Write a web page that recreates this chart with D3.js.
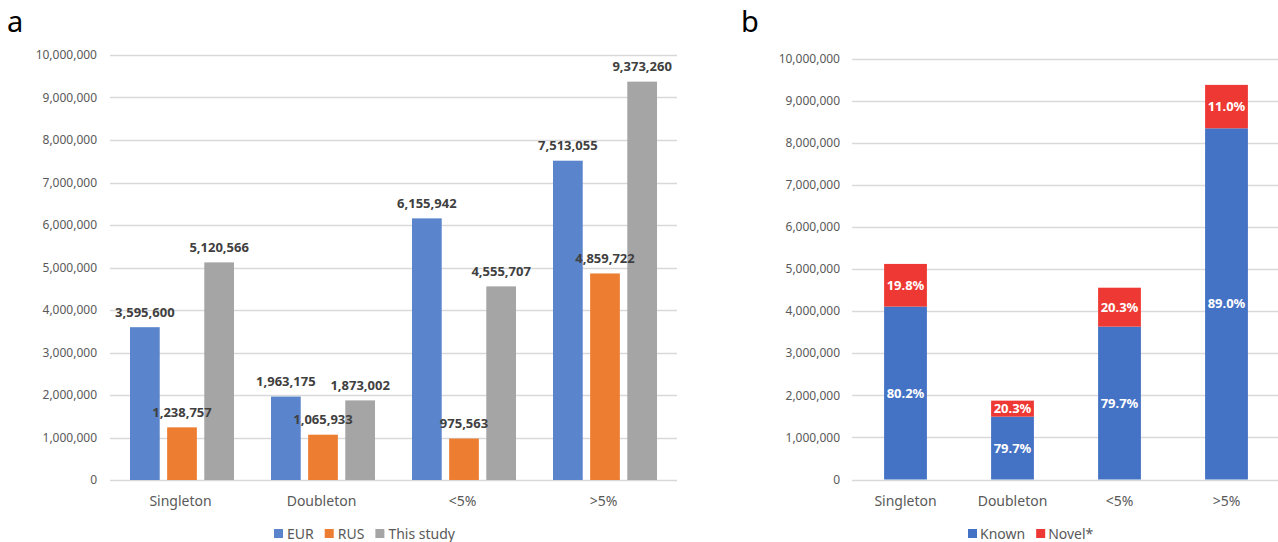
<!DOCTYPE html>
<html><head><meta charset="utf-8">
<script src="https://cdn.jsdelivr.net/npm/d3@7"></script>
<style>body{margin:0;background:#fff}svg{display:block;font-family:"Noto Sans",sans-serif}</style>
</head><body><svg id="c" width="1278" height="542"></svg>
<script>
const categories = ["Singleton","Doubleton","<5%",">5%"];
const seriesNames = ["EUR","RUS","This study"];
const eurValues = [3595600,1963175,6155942,7513055];
const rusValues = [1238757,1065933,975563,4859722];
const studyValues = [5120566,1873002,4555707,9373260];
const knownPct = [80.2,79.7,79.7,89.0];
const novelPct = [19.8,20.3,20.3,11.0];
const yTicks = [0,1000000,2000000,3000000,4000000,5000000,6000000,7000000,8000000,9000000,10000000];
const stackNames = ["Known","Novel*"];

const svg = d3.select("#c");
const fmt = d3.format(",");
const colA = ["#5A84CC","#ED7D31","#A5A5A5"];
const colB = ["#4472C4","#EE3833"];

svg.append("text").attr("x",7).attr("y",32).attr("font-size",29).attr("fill","#000").text("a");
svg.append("text").attr("x",741).attr("y",32).attr("font-size",29).attr("fill","#000").text("b");

function drawAxis(g, y, x0, x1, labelX){
  g.selectAll("line.grid").data(yTicks).join("line").attr("class","grid")
    .attr("x1",x0).attr("x2",x1).attr("y1",d=>Math.round(y(d))+0.5).attr("y2",d=>Math.round(y(d))+0.5)
    .attr("stroke","#d9d9d9").attr("stroke-width",1.3);
  g.selectAll("text.tick").data(yTicks).join("text").attr("class","tick")
    .attr("x",labelX).attr("y",d=>y(d)).attr("dy","0.35em").attr("text-anchor","end")
    .attr("font-size",12).attr("fill","#595959").text(d=>fmt(d));
}

// ---- Panel a ----
const ga = svg.append("g");
const ya = d3.scaleLinear().domain([0,10000000]).range([480,55]);
const xa = d3.scaleBand().domain(categories).range([110,674]);
const xsa = d3.scaleBand().domain(seriesNames).range([20,124]).paddingInner(0.2);
drawAxis(ga, ya, 110, 677, 97);
const seriesA = [eurValues,rusValues,studyValues];
const allA = seriesNames.flatMap((s,si)=>categories.map((c,i)=>({s,si,c,v:seriesA[si][i]})));
ga.selectAll("rect.bar").data(allA).join("rect").attr("class","bar")
  .attr("x",d=>xa(d.c)+xsa(d.s)).attr("width",xsa.bandwidth())
  .attr("y",d=>ya(d.v)).attr("height",d=>ya(0)-ya(d.v)).attr("fill",d=>colA[d.si]);
ga.selectAll("text.lbl").data(allA).join("text").attr("class","lbl")
  .attr("x",d=>xa(d.c)+xsa(d.s)+xsa.bandwidth()/2).attr("y",d=>ya(d.v)-15).attr("dy","0.35em")
  .attr("text-anchor","middle").attr("font-size",13).attr("font-weight","bold").attr("fill","#404040")
  .text(d=>fmt(d.v));
ga.selectAll("text.cat").data(categories).join("text").attr("class","cat")
  .attr("x",d=>xa(d)+xa.bandwidth()/2).attr("y",501).attr("dy","0.35em").attr("text-anchor","middle")
  .attr("font-size",14).attr("fill","#595959").text(d=>d);
const legA = ga.append("g");
let lx = 274;
seriesNames.forEach((s,i)=>{
  legA.append("rect").attr("x",lx).attr("y",529).attr("width",9).attr("height",9).attr("fill",colA[i]);
  const t = legA.append("text").attr("x",lx+13).attr("y",534).attr("dy","0.35em").attr("font-size",14).attr("fill","#595959").text(s);
  lx += 13 + t.node().getComputedTextLength() + 11;
});

// ---- Panel b ----
const gb = svg.append("g");
const yb = d3.scaleLinear().domain([0,10000000]).range([479.5,58.5]);
const xb = d3.scaleBand().domain(categories).range([852,1280]).paddingInner(0.6).paddingOuter(0.3);
drawAxis(gb, yb, 852, 1278, 840);
const stacked = categories.map((c,i)=>{
  const known = studyValues[i]*knownPct[i]/100;
  return {c, segs:[
    {k:0, y0:0, y1:known, p:knownPct[i]},
    {k:1, y0:known, y1:studyValues[i], p:novelPct[i]}
  ]};
});
const segs = stacked.flatMap(d=>d.segs.map(s=>({...s,c:d.c})));
gb.selectAll("rect.seg").data(segs).join("rect").attr("class","seg")
  .attr("x",d=>xb(d.c)).attr("width",xb.bandwidth())
  .attr("y",d=>yb(d.y1)).attr("height",d=>yb(d.y0)-yb(d.y1)).attr("fill",d=>colB[d.k]);
gb.selectAll("text.pl").data(segs).join("text").attr("class","pl")
  .attr("x",d=>xb(d.c)+xb.bandwidth()/2).attr("y",d=>(yb(d.y0)+yb(d.y1))/2).attr("dy","0.35em")
  .attr("text-anchor","middle").attr("font-size",13).attr("font-weight","bold").attr("fill","#fff")
  .text(d=>d.p.toFixed(1)+"%");
gb.selectAll("text.cat").data(categories).join("text").attr("class","cat")
  .attr("x",d=>xb(d)+xb.bandwidth()/2).attr("y",501).attr("dy","0.35em").attr("text-anchor","middle")
  .attr("font-size",14).attr("fill","#595959").text(d=>d);
const legB = gb.append("g");
let bx = 968;
stackNames.forEach((s,i)=>{
  legB.append("rect").attr("x",bx).attr("y",529).attr("width",9).attr("height",9).attr("fill",colB[i]);
  const t = legB.append("text").attr("x",bx+12).attr("y",534).attr("dy","0.35em").attr("font-size",14).attr("fill","#595959").text(s);
  bx += 12 + t.node().getComputedTextLength() + 11;
});
</script></body></html>
